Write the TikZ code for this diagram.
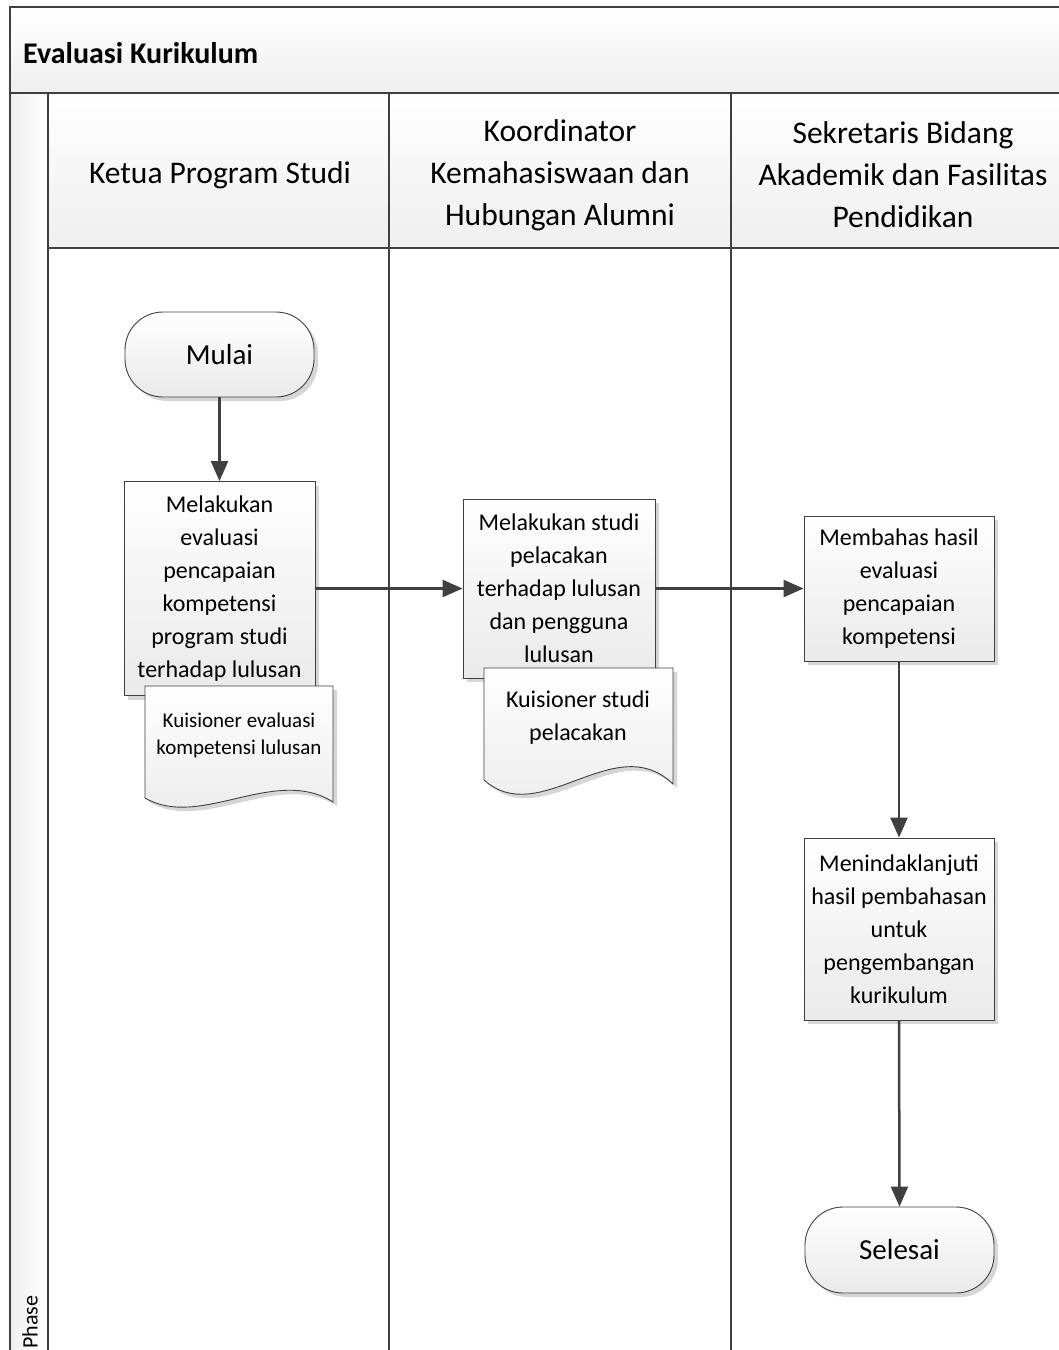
\documentclass[tikz,border=0pt]{standalone}
\usepackage{fontspec}
\setmainfont{Carlito}
\usetikzlibrary{arrows.meta,shadows}
\definecolor{lineC}{HTML}{404040}
\definecolor{fillB}{HTML}{EAEAEA}
\definecolor{hdrB}{HTML}{EFEFEF}
\begin{document}
\begin{tikzpicture}[x=1pt,y=-1pt,
  lane/.style={draw=lineC, line width=2.2pt},
  proc/.style={draw=lineC, line width=0.9pt, top color=white, bottom color=fillB,
    general shadow={fill=black!16, shadow xshift=4pt, shadow yshift=-4pt},
    align=center, inner sep=0pt, font=\fontsize{24}{33}\selectfont},
  term/.style={proc, rounded corners=38pt, font=\fontsize{29}{35}\selectfont},
  docshape/.style={draw=lineC, line width=0.9pt, top color=white, bottom color=fillB},
  docshadow/.style={fill=black!16},
  doctext/.style={align=center, inner sep=0pt},
  flow/.style={draw=lineC, line width=2.5pt, -{Triangle[length=20pt,width=17pt]}},
  hdr/.style={align=center, inner sep=0pt, font=\fontsize{31.5}{42}\selectfont},
]
\useasboundingbox (0,0) rectangle (1059,1350);
\fill[white] (0,0) rectangle (1059,1350);
\begin{scope}
\clip (0,0) rectangle (1059,1350);
\shade[top color=white, bottom color=hdrB] (10,7) rectangle (1080,93);
\shade[top color=white, bottom color=hdrB] (48,93) rectangle (1080,248);
\shade[left color=hdrB, right color=white] (10,93) rectangle (48,1360);
\draw[lane] (10,1360) -- (10,7) -- (1080,7);
\draw[lane] (10,93) -- (1080,93);
\draw[lane] (48,93) -- (48,1360);
\draw[lane] (48,248) -- (1080,248);
\draw[lane] (389,93) -- (389,1360);
\draw[lane] (731,93) -- (731,1360);
\end{scope}

\node[anchor=base west, inner sep=0pt, font=\bfseries\fontsize{30}{36}\selectfont] (title) at (23,63) {Evaluasi Kurikulum};
\node[hdr] (h1) at (220,175) {Ketua Program Studi};
\node[hdr] (h2) at (560,175) {Koordinator\\Kemahasiswaan dan\\Hubungan Alumni};
\node[hdr] (h3) at (903,175) {Sekretaris Bidang\\Akademik dan Fasilitas\\Pendidikan};
\node[rotate=90, anchor=west, inner sep=0pt, font=\fontsize{22}{26}\selectfont] (phase) at (30,1349) {Phase};

% lane 1
\node[term, minimum width=189pt, minimum height=85pt] (mulai) at (219.5,354.5) {Mulai};
\node[proc, minimum width=191pt, minimum height=214pt] (box1) at (219.5,588.5) {Melakukan\\evaluasi\\pencapaian\\kompetensi\\program studi\\terhadap lulusan};
\fill[docshadow] (149,690) -- (337,690) -- (337,806) .. controls (279,769) and (204,834) .. (149,802) -- cycle;
\path[docshape] (145,686) -- (333,686) -- (333,802) .. controls (275,765) and (200,830) .. (145,798) -- cycle;
\node[doctext, font=\fontsize{21}{27}\selectfont] (doc1) at (239,735) {Kuisioner evaluasi\\kompetensi lulusan};

% lane 2
\node[proc, minimum width=192pt, minimum height=179pt] (box2) at (559,588.5) {Melakukan studi\\pelacakan\\terhadap lulusan\\dan pengguna\\lulusan};
\fill[docshadow] (488,672) -- (677,672) -- (677,788) .. controls (619,732) and (544,834) .. (488,784) -- cycle;
\path[docshape] (484,668) -- (673,668) -- (673,784) .. controls (615,728) and (540,830) .. (484,780) -- cycle;
\node[doctext, font=\fontsize{24}{33}\selectfont] (doc2) at (578,718) {Kuisioner studi\\pelacakan};

% lane 3
\node[proc, minimum width=190pt, minimum height=145pt] (box3) at (899,588.5) {Membahas hasil\\evaluasi\\pencapaian\\kompetensi};
\node[proc, minimum width=190pt, minimum height=182pt] (box4) at (899,929) {Menindaklanjuti\\hasil pembahasan\\untuk\\pengembangan\\kurikulum};
\node[term, minimum width=189pt, minimum height=86pt] (selesai) at (899.5,1250) {Selesai};

% connectors
\draw[flow] (mulai.south) -- (box1.north);
\draw[flow] (box1.east) -- (box2.west);
\draw[flow] (box2.east) -- (box3.west);
\draw[flow] (box3.south) -- (box4.north);
\draw[flow] (box4.south) -- (selesai.north);
\end{tikzpicture}
\end{document}
